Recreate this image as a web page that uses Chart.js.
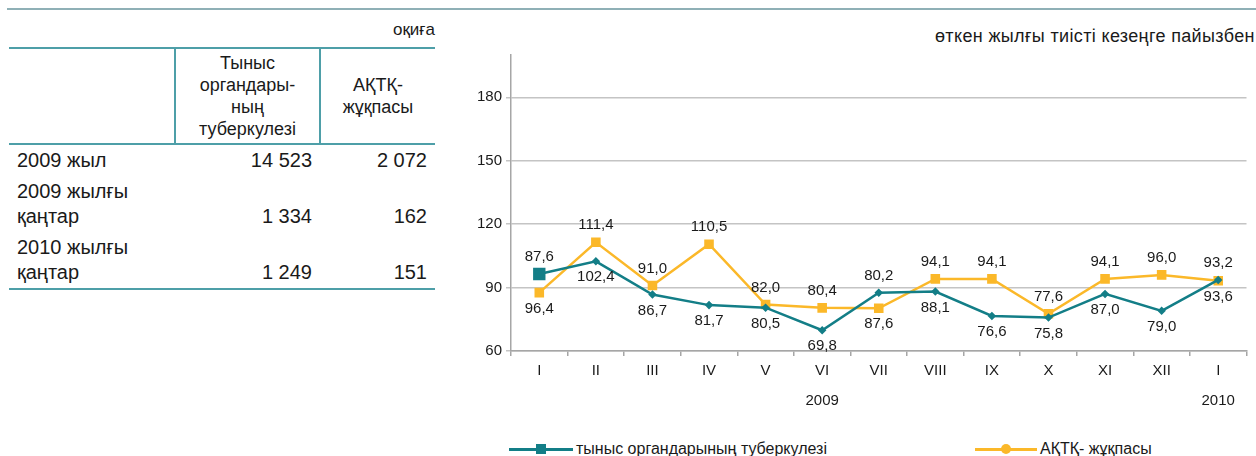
<!DOCTYPE html>
<html>
<head>
<meta charset="utf-8">
<script src="https://cdn.jsdelivr.net/npm/chart.js@4"></script>
<style>
  body { margin: 0; width: 1256px; height: 456px; overflow: hidden; background: #fff;
         font-family: "Liberation Sans", Arial, sans-serif; color: #1a1a1a; position: relative; }
  .topline { position: absolute; left: 7px; right: 0; top: 8px; height: 2px; background: #8fb0b6; }
  .unit { position: absolute; right: 821px; top: 20px; font-size: 17px; }
  table { position: absolute; left: 9px; top: 47px; width: 426px; border-collapse: collapse; }
  th { font-weight: normal; font-size: 18px; line-height: 22px; height: 94px; padding: 0;
       border-top: 2px solid #4e9fa8; border-bottom: 2px solid #4e9fa8; vertical-align: middle; }
  th.mid { border-left: 2px solid #4e9fa8; border-right: 2px solid #4e9fa8; }
  td { font-size: 20px; line-height: 25px; padding: 3px 8px; vertical-align: bottom; }
  td.num { text-align: right; }
  tr:last-child td { border-bottom: 2px solid #4e9fa8; }
  .subtitle { position: absolute; left: 935px; top: 26px; font-size: 18px; letter-spacing: 0.35px; white-space: nowrap; }
  #wrap { position: absolute; left: 450px; top: 40px; width: 806px; height: 380px; }
  .legend { position: absolute; top: 439px; font-size: 16px; line-height: 20px; white-space: nowrap; display: flex; align-items: center; }
  .legend .ln { position: relative; height: 3px; margin-right: 3px; }
  .legend .mk { position: absolute; left: 50%; top: 50%; transform: translate(-50%, -50%); }
</style>
</head>
<body>
<div class="topline"></div>
<div class="unit">оқиға</div>
<table id="tbl">
  <thead>
    <tr>
      <th style="width:165px"></th>
      <th class="mid" style="width:143px">Тыныс<br>органдары-<br>ның<br>туберкулезі</th>
      <th>АҚТҚ-<br>жұқпасы</th>
    </tr>
  </thead>
  <tbody id="tbody"></tbody>
</table>

<div class="subtitle">өткен жылғы тиісті кезеңге пайызбен</div>
<div id="wrap"><canvas id="chart"></canvas></div>

<div class="legend" style="left:509px">
  <div class="ln" style="width:64px;background:#137e87"><div class="mk" style="width:10px;height:10px;background:#137e87"></div></div>
  <span>тыныс органдарының туберкулезі</span>
</div>
<div class="legend" style="left:975px">
  <div class="ln" style="width:62px;background:#fbb829"><div class="mk" style="width:10px;height:10px;border-radius:50%;background:#fbb829"></div></div>
  <span>АҚТҚ- жұқпасы</span>
</div>

<script>
// table data
const rowLabels = ['2009 жыл', '2009 жылғы<br>қаңтар', '2010 жылғы<br>қаңтар'];
const tbCases = ['14 523', '1 334', '1 249'];
const hivCases = ['2 072', '162', '151'];

// chart data
const months = ['I', 'II', 'III', 'IV', 'V', 'VI', 'VII', 'VIII', 'IX', 'X', 'XI', 'XII', 'I'];
const yearUnder = ['', '', '', '', '', '2009', '', '', '', '', '', '', '2010'];
const tuberculosis = [96.4, 102.4, 86.7, 81.7, 80.5, 69.8, 87.6, 88.1, 76.6, 75.8, 87.0, 79.0, 93.6];
const hiv = [87.6, 111.4, 91.0, 110.5, 82.0, 80.4, 80.2, 94.1, 94.1, 77.6, 94.1, 96.0, 93.2];

const tbody = document.getElementById('tbody');
rowLabels.forEach((lab, i) => {
    const tr = document.createElement('tr');
    tr.innerHTML = `<td>${lab}</td><td class="num">${tbCases[i]}</td><td class="num">${hivCases[i]}</td>`;
    tbody.appendChild(tr);
});

const TEAL = '#137e87';
const GOLD = '#fbb829';

// value labels: teal below both points, gold above both points
const valueLabels = {
    id: 'valueLabels',
    afterDatasetsDraw(chart) {
        const ctx = chart.ctx;
        const tb = chart.getDatasetMeta(0).data;
        const hv = chart.getDatasetMeta(1).data;
        ctx.save();
        ctx.font = '15px "Liberation Sans", Arial, sans-serif';
        ctx.fillStyle = '#1a1a1a';
        ctx.textAlign = 'center';
        ctx.textBaseline = 'middle';
        tb.forEach((p, i) => {
            const q = hv[i];
            const low = Math.max(p.y, q.y);
            const high = Math.min(p.y, q.y);
            ctx.fillText(tuberculosis[i].toFixed(1).replace('.', ','), p.x, low + 16);
            ctx.fillText(hiv[i].toFixed(1).replace('.', ','), q.x, high - 17);
        });
        ctx.restore();
    }
};

new Chart(document.getElementById('chart'), {
    type: 'line',
    data: {
        labels: months.map((m, i) => yearUnder[i] ? [m, yearUnder[i]] : m),
        datasets: [{
            label: 'тыныс органдарының туберкулезі',
            data: tuberculosis,
            borderColor: TEAL,
            backgroundColor: TEAL,
            borderWidth: 2.5,
            pointStyle: ctx => ctx.dataIndex === 0 ? 'rect' : 'rectRot',
            pointRadius: ctx => ctx.dataIndex === 0 ? 7 : 2.5,
            tension: 0
        }, {
            label: 'АҚТҚ- жұқпасы',
            data: hiv,
            borderColor: GOLD,
            backgroundColor: GOLD,
            borderWidth: 2.5,
            pointStyle: 'rect',
            pointRadius: 5,
            tension: 0
        }]
    },
    options: {
        responsive: true,
        maintainAspectRatio: false,
        animation: false,
        devicePixelRatio: 1,
        layout: { padding: { top: 15, right: 9, left: 0, bottom: 0 } },
        plugins: {
            legend: { display: false },
            title: { display: false },
            tooltip: { enabled: false }
        },
        scales: {
            x: {
                offset: true,
                grid: { offset: true, drawOnChartArea: false, drawTicks: true, tickLength: 5, color: '#a6a6a6', lineWidth: 1.5 },
                border: { color: '#a6a6a6', width: 1.5 },
                ticks: {
                    color: '#1a1a1a', padding: 0, maxRotation: 0, autoSkip: false,
                    font: { family: '"Liberation Sans", Arial, sans-serif', size: 15, lineHeight: 2 }
                },
                afterFit(scale) { scale.height = 69; }
            },
            y: {
                min: 60,
                max: 200,
                grid: { color: '#c4c4c4', lineWidth: 1.5, tickLength: 5 },
                border: { color: '#a6a6a6', width: 1.5 },
                ticks: {
                    stepSize: 30, includeBounds: false, color: '#1a1a1a', padding: 4,
                    font: { family: '"Liberation Sans", Arial, sans-serif', size: 15 }
                },
                afterFit(scale) { scale.width = 61; }
            }
        }
    },
    plugins: [valueLabels]
});
</script>
</body>
</html>
